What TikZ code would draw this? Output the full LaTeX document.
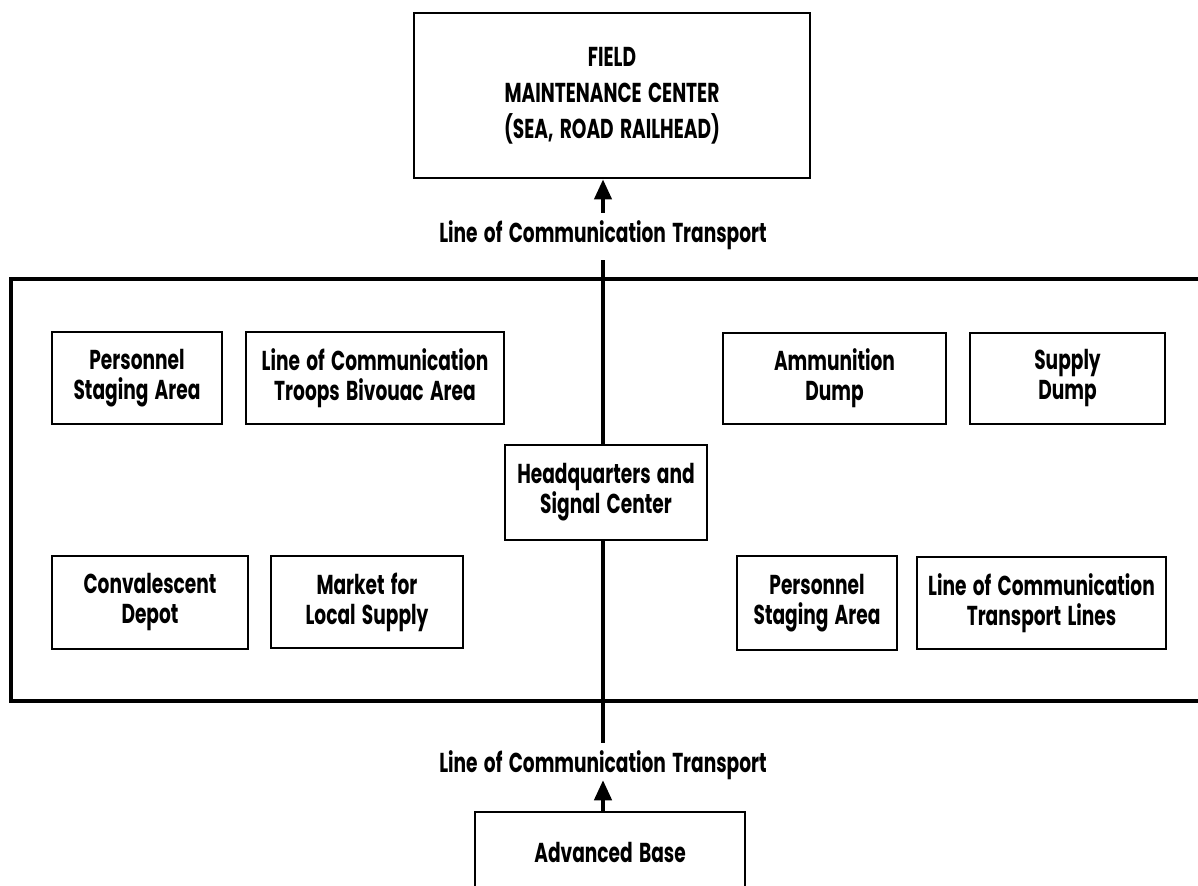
\documentclass[tikz,border=0pt]{standalone}
\usepackage{fontspec}
\setmainfont{Poppins}[FakeStretch=0.68, WordSpace=1.6]
\usetikzlibrary{arrows.meta}
\begin{document}
\begin{tikzpicture}[x=0.75pt,y=-0.75pt,
  box/.style={draw, line width=2.2pt, align=center, inner sep=0pt, font=\bfseries\fontsize{20.5}{22.5}\selectfont},
  sz/.style 2 args={minimum width=#1*0.75pt, minimum height=#2*0.75pt},
  lab/.style={font=\bfseries\fontsize{20.5}{22.5}\selectfont, inner sep=0pt, anchor=base},
  conn/.style={line width=2.6pt},
  arr/.style={conn, -{Triangle[width=13pt,length=15pt]}}
]
\clip (0,0) rectangle (1198,885);
% top box
\node[box, sz={396}{165}, font=\bfseries\fontsize{20.5}{27}\selectfont] (top) at (612,95.5) {FIELD\\MAINTENANCE CENTER\\(SEA, ROAD RAILHEAD)};
% labels
\node[lab, text height=21.75pt, text depth=13.5pt] (lab1) at (603,242) {Line of Communication Transport};
\node[lab, text height=21.75pt, text depth=6pt] (lab2) at (603,772) {Line of Communication Transport};
% area frame
\node[draw, line width=2.6pt, sz={1204}{422}] (area) at (613,490) {};
% inner boxes
\node[box, sz={170}{92}] (ps1) at (137,378) {Personnel\\Staging Area};
\node[box, sz={258}{92}] (loc1) at (375,378) {Line of Communication\\Troops Bivouac Area};
\node[box, sz={223}{91}] (am) at (834.5,378.5) {Ammunition\\Dump};
\node[box, sz={195}{91}] (sd) at (1067.5,378.5) {Supply\\Dump};
\node[box, sz={202}{95}] (hq) at (606,492.5) {Headquarters and\\Signal Center};
\node[box, sz={196}{93}] (cd) at (150,602.5) {Convalescent\\Depot};
\node[box, sz={192}{92}] (mk) at (367,602) {Market for\\Local Supply};
\node[box, sz={160}{94}] (ps2) at (817,603) {Personnel\\Staging Area};
\node[box, sz={249}{92}] (loct) at (1041.5,603) {Line of Communication\\Transport Lines};
% advanced base
\node[box, sz={270}{80}] (ab) at (610,852) {Advanced Base};
% connectors
\draw[conn] (hq.north -| lab1.south) -- (lab1.south);
\draw[arr] (lab1.north) -- (lab1.north |- top.south);
\draw[conn] (hq.south -| lab2.north) -- (lab2.north);
\draw[arr] (ab.north -| lab2.south) -- (lab2.south);
\end{tikzpicture}
\end{document}
